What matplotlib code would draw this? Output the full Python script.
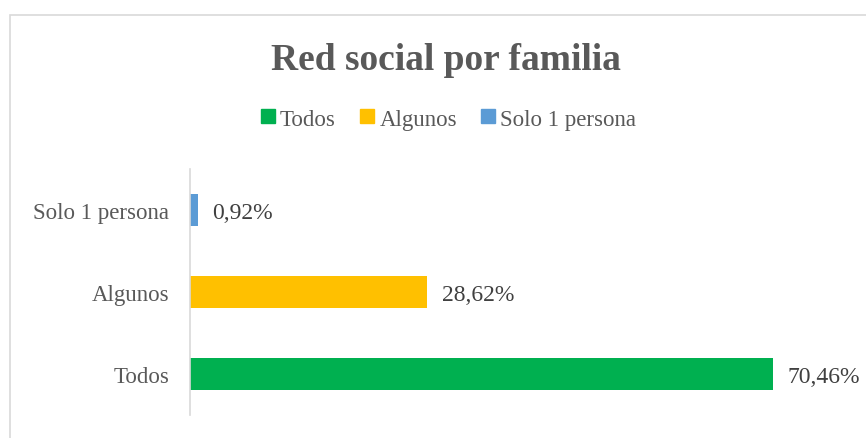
import matplotlib.pyplot as plt
from matplotlib.lines import Line2D
from matplotlib.patches import Rectangle

categories = ['Todos', 'Algunos', 'Solo 1 persona']
values = [70.46, 28.62, 0.92]
labels = ['70,46%', '28,62%', '0,92%']
colors = ['#00B050', '#FFC000', '#5B9BD5']

plt.rcParams['font.family'] = ['Liberation Serif', 'DejaVu Serif']

fig = plt.figure(figsize=(8.66, 4.39), dpi=100)
ax = fig.add_axes([190 / 866, 1 - 416 / 439, (852 - 190) / 866, 246 / 439])

# chart border (runs off the right and bottom edges)
fig.patches.append(Rectangle((10 / 866, -0.1), 1.2, 1.1 - 16 / 439, transform=fig.transFigure,
                             fill=False, edgecolor='#d9d9d9', lw=1.2))

y = range(len(categories))
ax.barh(y, values, height=0.4, color=colors)
for i, (v, lab) in enumerate(zip(values, labels)):
    ax.text(v + 1.8, i, lab, va='center_baseline', ha='left', fontsize=17, color='#404040')

ax.set_xlim(0, 80)
ax.set_ylim(-0.5, 2.5)
ax.set_yticks(list(y))
ax.set_yticklabels(categories, fontsize=16.5, color='#595959')
ax.tick_params(axis='y', length=0, pad=15)
ax.set_xticks([])
for s in ['top', 'right', 'bottom']:
    ax.spines[s].set_visible(False)
ax.spines['left'].set_color('#d9d9d9')
ax.spines['left'].set_linewidth(1.2)

fig.text(446 / 866, 1 - 60 / 439, 'Red social por familia', ha='center', va='center',
         fontsize=27, fontweight='bold', color='#595959')

handles = [Line2D([], [], marker='s', linestyle='', markersize=10, color=c) for c in colors]
fig.legend(handles, categories, loc='center', bbox_to_anchor=(449 / 866, 1 - 120 / 439),
           ncol=3, frameon=False, fontsize=16.5, handlelength=0.55, handletextpad=0.25,
           columnspacing=1.1, labelcolor='#595959')

fig.savefig('out.png', dpi=100)
